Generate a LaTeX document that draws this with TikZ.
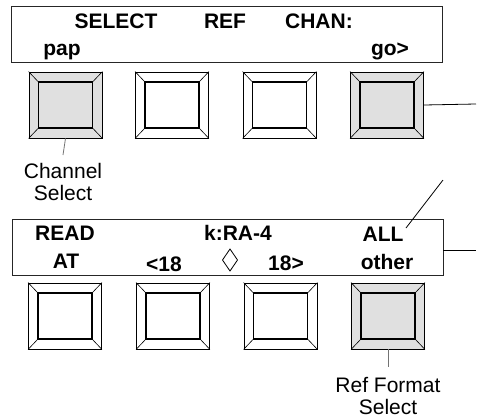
\documentclass[tikz,border=0pt]{standalone}
\usepackage{fontspec}
\setmainfont{Liberation Sans}
\begin{document}
\begin{tikzpicture}[x=1pt,y=-1pt,
  disp/.style={draw=black!85, line width=0.9pt, minimum width=431pt, minimum height=56pt, inner sep=0pt},
  btn/.style={draw=black, line width=0.9pt, minimum width=73pt, minimum height=66pt, inner sep=0pt},
  btnin/.style={draw=black, line width=1.1pt, minimum width=54pt, minimum height=46pt, inner sep=0pt},
  lit/.style={fill=black!12},
  plain/.style={},
  lbl/.style={font=\fontsize{21}{22}\selectfont\bfseries, anchor=base, inner sep=0pt},
  captext/.style={font=\fontsize{21}{22}\selectfont, align=center, anchor=north, inner sep=0pt},
  conn/.style={line width=0.8pt, black},
  gconn/.style={line width=0.8pt, black!55}
]
\useasboundingbox (0,0) rectangle (477,418);

% displays
\node[disp] (d1) at (226.5,34) {};
\node[disp] (d2) at (227.5,247) {};

% top display text
\node[lbl] (t1) at (116,28) {SELECT};
\node[lbl] (t2) at (225,28) {REF};
\node[lbl] (t3) at (319,28) {CHAN:};
\node[lbl] (t4) at (62,55) {pap};
\node[lbl] (t5) at (390,55) {go>};

% bottom display text
\node[lbl] (u1) at (65,240) {READ};
\node[lbl] (u2) at (238,240) {k:RA-4};
\node[lbl] (u3) at (383,241) {ALL};
\node[lbl] (u4) at (66,268) {AT};
\node[lbl] (u5) at (164,271) {<18};
\node[lbl] (u7) at (286,270) {18>};
\node[lbl] (u8) at (387,269) {other};
% lozenge symbol
\coordinate (z) at (230,260);
\draw[line width=0.8pt] ([yshift=11pt]z) -- ([xshift=7.5pt]z) -- ([yshift=-11pt]z) -- ([xshift=-7.5pt]z) -- cycle;

% buttons
\foreach \n/\x/\y/\s in {b1/65.5/105/lit, b2/172/105/plain, b3/279.5/105/plain, b4/387/105/lit,
                         b5/65/316/plain, b6/173/316/plain, b7/280.5/316/plain, b8/388/316/lit}{
  \node[btn,\s] (\n) at (\x,\y) {};
  \node[btnin] (\n i) at (\x,\y) {};
  \draw[line width=0.6pt] (\n.north west) -- (\n i.north west)
                          (\n.north east) -- (\n i.north east)
                          (\n.south west) -- (\n i.south west)
                          (\n.south east) -- (\n i.south east);
}

% labels
\node[captext] (cs) at (63,163) {Channel\\Select};
\node[captext] (rf) at (388,377) {Ref Format\\Select};

% connectors
\coordinate (e1) at (476,104);
\coordinate (e2) at (476,250);
\coordinate (a1) at (406,228);
\coordinate (a2) at (443,180);
\draw[conn] (b4.east) -- (e1);
\draw[conn] (d2.east |- e2) -- (e2);
\draw[conn] (a1) -- (a2);
\draw[gconn] (b1.south) -- ([yshift=8pt]cs.north);
\draw[gconn] (b8.south) -- ([yshift=10pt]rf.north);
\end{tikzpicture}
\end{document}
